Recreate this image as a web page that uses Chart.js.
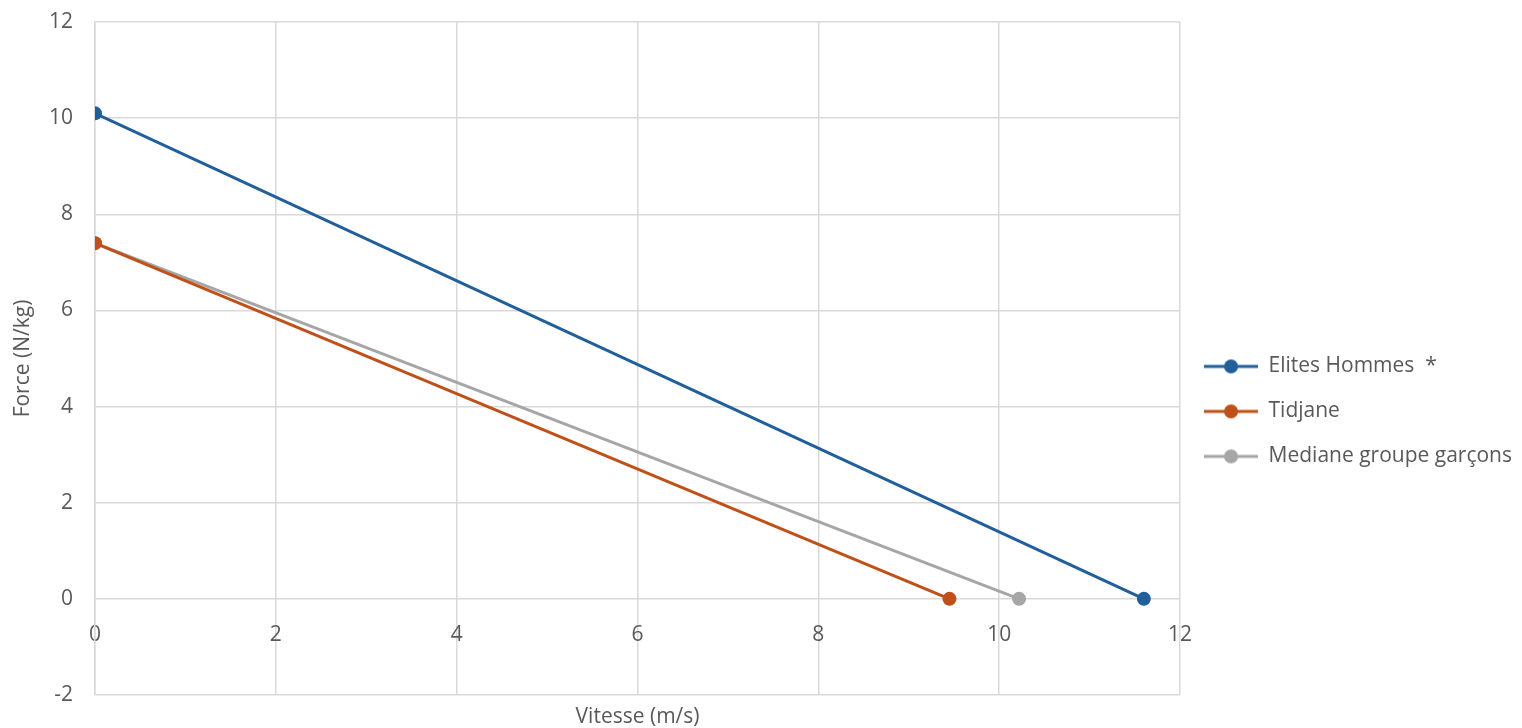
<!DOCTYPE html>
<html>
<head>
<meta charset="utf-8">
<script src="https://cdn.jsdelivr.net/npm/chart.js@4/dist/chart.umd.min.js"></script>
<style>
  html, body { margin: 0; padding: 0; background: #fff; }
  #wrap { width: 1522px; height: 728px; }
</style>
</head>
<body>
<div id="wrap"><canvas id="fvChart"></canvas></div>
<script>
// Profil force-vitesse : chaque droite va de F0 (v = 0) a V0 (F = 0)
var seriesNames = ['Elites Hommes  *', 'Tidjane', 'Mediane groupe garçons'];
var elitesVitesse = [0, 11.6];
var elitesForce = [10.1, 0];
var tidjaneVitesse = [0, 9.45];
var tidjaneForce = [7.4, 0];
var medianeVitesse = [0, 10.22];
var medianeForce = [7.4, 0];
var xTicks = [0, 2, 4, 6, 8, 10, 12];
var yTicks = [-2, 0, 2, 4, 6, 8, 10, 12];

var colors = ['#215f9a', '#c0501a', '#a6a6a6'];
var textColor = '#595959';
var gridColor = '#d9d9d9';
var fontFamily = "'Open Sans', 'Liberation Sans', sans-serif";
var fontSize = 21;

function toPoints(xs, ys) {
    var pts = [];
    for (var i = 0; i < xs.length; i++) pts.push({x: xs[i], y: ys[i]});
    return pts;
}

// marqueur de legende : trait + rond
function legendMarker(color) {
    var c = document.createElement('canvas');
    c.width = 54; c.height = 16;
    var g = c.getContext('2d');
    g.strokeStyle = color;
    g.lineWidth = 3;
    g.beginPath();
    g.moveTo(0, 8); g.lineTo(54, 8);
    g.stroke();
    g.fillStyle = color;
    g.beginPath();
    g.arc(27, 8, 7, 0, Math.PI * 2);
    g.fill();
    return c;
}

function makeSet(i, xs, ys) {
    return {
        label: seriesNames[i],
        data: toPoints(xs, ys),
        borderColor: colors[i],
        backgroundColor: colors[i],
        borderWidth: 3,
        pointRadius: 7,
        pointHoverRadius: 7,
        pointBorderWidth: 0,
        showLine: true,
        tension: 0
    };
}

var data = {
    datasets: [
        makeSet(0, elitesVitesse, elitesForce),
        makeSet(1, tidjaneVitesse, tidjaneForce),
        makeSet(2, medianeVitesse, medianeForce)
    ]
};

var options = {
    responsive: true,
    maintainAspectRatio: false,
    animation: false,
    layout: { padding: { top: 22, right: 0, bottom: 0, left: 0 } },
    plugins: {
        tooltip: { enabled: false },
        legend: {
            display: true,
            position: 'right',
            title: { display: true, text: ' ', padding: { top: 0, bottom: 50 }, font: { size: 19 } },
            labels: {
                usePointStyle: true,
                pointStyleWidth: 54,
                padding: 24,
                color: textColor,
                font: { family: fontFamily, size: fontSize },
                generateLabels: function (chart) {
                    return chart.data.datasets.map(function (ds, i) {
                        return {
                            text: ds.label,
                            fontColor: textColor,
                            pointStyle: legendMarker(colors[i]),
                            datasetIndex: i,
                            lineWidth: 0,
                            hidden: false
                        };
                    });
                }
            }
        }
    },
    scales: {
        x: {
            type: 'linear',
            position: { y: 0 },
            min: 0,
            max: 12,
            afterBuildTicks: function (s) { s.ticks = xTicks.map(function (v) { return {value: v}; }); },
            ticks: { color: textColor, font: { family: fontFamily, size: fontSize }, padding: 24, maxRotation: 0 },
            grid: { color: gridColor, lineWidth: 1.5, drawTicks: false },
            border: { display: false }
        },
        xTitle: {
            type: 'linear',
            position: 'bottom',
            min: 0,
            max: 12,
            ticks: { display: false },
            grid: { display: false, drawTicks: false },
            border: { display: false },
            title: { display: true, text: 'Vitesse (m/s)', color: textColor, font: { family: fontFamily, size: fontSize, lineHeight: 1 }, padding: { top: 12, bottom: 0 } }
        },
        y: {
            type: 'linear',
            min: -2,
            max: 12,
            afterBuildTicks: function (s) { s.ticks = yTicks.map(function (v) { return {value: v}; }); },
            afterFit: function (s) { s.width = 95; },
            ticks: { color: textColor, font: { family: fontFamily, size: fontSize }, padding: 0 },
            grid: { color: gridColor, lineWidth: 1.5, drawTicks: true, tickLength: 22, tickColor: 'rgba(0,0,0,0)' },
            border: { color: gridColor, width: 1.5 },
            title: { display: true, text: 'Force (N/kg)', color: textColor, font: { family: fontFamily, size: fontSize }, padding: { top: 10, bottom: 0 } }
        }
    }
};

new Chart(document.getElementById('fvChart').getContext('2d'), {
    type: 'scatter',
    data: data,
    options: options
});
</script>
</body>
</html>
